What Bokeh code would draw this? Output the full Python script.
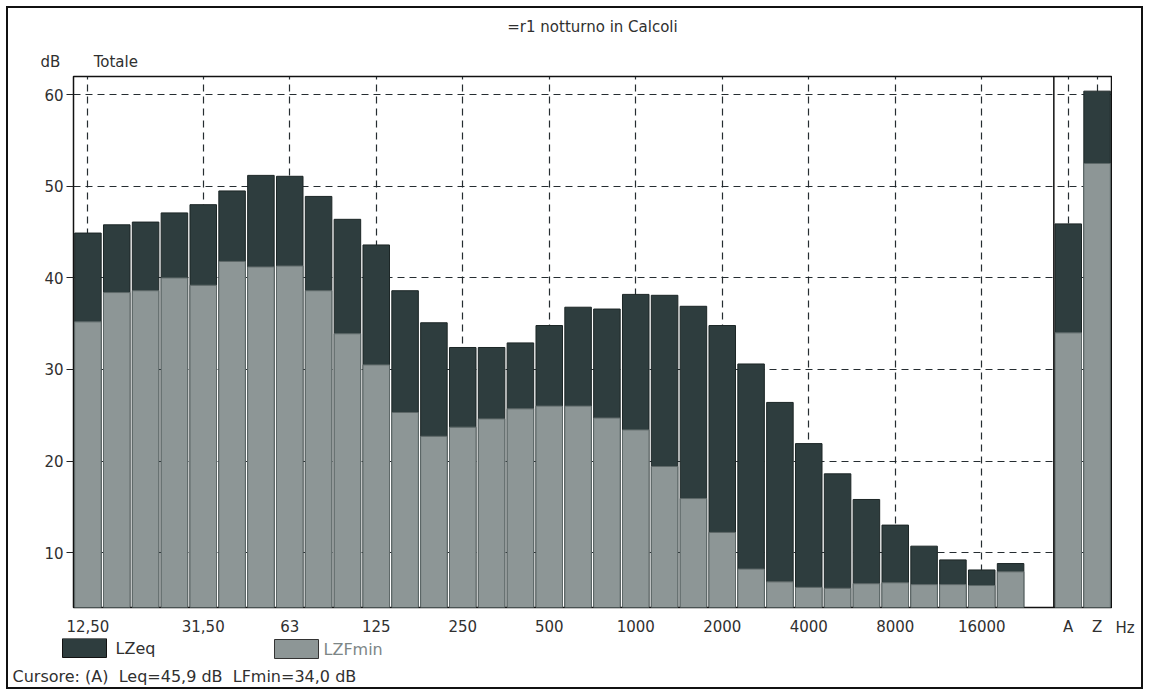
from bokeh.plotting import figure
from bokeh.layouts import column, row
from bokeh.models import FixedTicker, Span, Range1d, Title
from bokeh.core.properties import value
from bokeh.embed import file_html
from bokeh.resources import INLINE

# ---------------- data ----------------
bands = ["12,50", "16", "20", "25", "31,50", "40", "50", "63", "80", "100", "125",
         "160", "200", "250", "315", "400", "500", "630", "800", "1000", "1250",
         "1600", "2000", "2500", "3150", "4000", "5000", "6300", "8000", "10000",
         "12500", "16000", "20000"]
lzeq = [44.9, 45.8, 46.1, 47.1, 48.0, 49.5, 51.2, 51.1, 48.9, 46.4, 43.6,
        38.6, 35.1, 32.4, 32.4, 32.9, 34.8, 36.8, 36.6, 38.2, 38.1,
        36.9, 34.8, 30.6, 26.4, 21.9, 18.6, 15.8, 13.0, 10.7,
        9.2, 8.1, 8.8]
lzfmin = [35.2, 38.4, 38.6, 40.0, 39.2, 41.8, 41.2, 41.3, 38.6, 33.9, 30.5,
          25.3, 22.7, 23.7, 24.6, 25.7, 26.0, 26.0, 24.7, 23.4, 19.4,
          15.9, 12.2, 8.2, 6.8, 6.2, 6.1, 6.6, 6.7, 6.5,
          6.5, 6.4, 7.9]
tot_labels = ["A", "Z"]
tot_lzeq = [45.9, 60.4]
tot_lzfmin = [34.0, 52.5]
labelled_bands = ["12,50", "31,50", "63", "125", "250", "500", "1000", "2000",
                  "4000", "8000", "16000"]
y_ticks = [10, 20, 30, 40, 50, 60]
series_names = ["LZeq", "LZFmin"]
cursor_text = "Cursore: (A)\u00a0\u00a0Leq=45,9 dB\u00a0\u00a0LFmin=34,0 dB"
title_text = "=r1 notturno in Calcoli"

# ---------------- style ----------------
DARK = "#2e3d3e"
LIGHT = "#8d9696"
TXT = "#303030"
FONT = "DejaVu Sans"
NB = "\u00a0"

W, H = 1149, 695
MAIN_W, MAIN_H = 1112, 638
FL, FR, FT, FB = 73, 1111, 76, 608
Y0, Y1 = 4.0, 62.0
n = len(bands)
nslots = n + 1 + len(tot_labels)

xs = list(range(n)) + [n + 1 + j for j in range(len(tot_labels))]
tops_eq = lzeq + tot_lzeq
tops_min = lzfmin + tot_lzfmin

# ---------------- main chart ----------------
p = figure(width=MAIN_W, height=MAIN_H, output_backend="svg", toolbar_location=None,
           title=None,
           x_range=Range1d(-0.5, nslots - 0.5), y_range=Range1d(Y0, Y1),
           min_border_left=FL, min_border_right=MAIN_W - FR,
           min_border_top=FT, min_border_bottom=MAIN_H - FB)
p.background_fill_color = "white"
p.border_fill_alpha = 0
p.outline_line_color = "#111111"
p.outline_line_width = 1.5

p.vbar(x=xs, top=tops_eq, bottom=0, width=0.92, fill_color=DARK,
       line_color="#1c2626", line_width=1)
p.vbar(x=xs, top=tops_min, bottom=0, width=0.92, fill_color=LIGHT,
       line_color="#5e6868", line_width=1)

tick_x = [bands.index(b) for b in labelled_bands] + xs[n:]
overrides = {bands.index(b): b for b in labelled_bands}
for j, t in enumerate(tot_labels):
    overrides[xs[n + j]] = t

p.xaxis.ticker = FixedTicker(ticks=tick_x)
p.xaxis.major_label_overrides = overrides
p.xaxis.major_tick_line_color = None
p.xaxis.major_tick_out = 0
p.xaxis.major_tick_in = 0
p.xaxis.minor_tick_line_color = None
p.xaxis.minor_tick_out = 0
p.xaxis.axis_line_color = None
p.xaxis.major_label_standoff = 10
p.xaxis.major_label_text_font = FONT
p.xaxis.major_label_text_font_size = "15px"
p.xaxis.major_label_text_color = TXT

p.yaxis.ticker = FixedTicker(ticks=y_ticks)
p.yaxis.axis_line_color = None
p.yaxis.minor_tick_line_color = None
p.yaxis.major_tick_out = 7
p.yaxis.major_tick_in = 0
p.yaxis.major_tick_line_color = "#222222"
p.yaxis.major_label_standoff = 3
p.yaxis.major_label_text_font = FONT
p.yaxis.major_label_text_font_size = "15px"
p.yaxis.major_label_text_color = TXT

p.xgrid.ticker = FixedTicker(ticks=tick_x)
p.ygrid.ticker = FixedTicker(ticks=y_ticks)
for g in (p.xgrid, p.ygrid):
    g.grid_line_color = "#1a2226"
    g.grid_line_dash = "7 5"
    g.grid_line_width = 1.2
    g.grid_line_alpha = 0.95

p.add_layout(Span(location=n + 0.5, dimension="height", line_color="#111111",
                  line_width=1.5))

p.add_layout(Title(text="dB" + NB * 7 + "Totale", align="left", offset=-33,
                   text_font=FONT, text_font_size="15px", text_font_style="normal",
                   text_color=TXT, standoff=12), "above")
p.add_layout(Title(text=title_text, align="center", offset=-10,
                   text_font=FONT, text_font_size="15px", text_font_style="normal",
                   text_color=TXT, standoff=18), "above")

def blank(fig):
    fig.outline_line_color = None
    fig.background_fill_alpha = 0
    fig.border_fill_alpha = 0
    fig.xgrid.grid_line_color = None
    fig.ygrid.grid_line_color = None
    fig.frame_align = False

# ---------------- "Hz" unit strip on the right ----------------
hz = figure(width=W - MAIN_W, height=MAIN_H, output_backend="svg",
            toolbar_location=None, x_axis_location=None, y_axis_location=None,
            x_range=Range1d(MAIN_W, W), y_range=Range1d(MAIN_H, 0),
            min_border=0)
blank(hz)
hz.text(x=[1115], y=[627], text=["Hz"], text_font=value(FONT),
        text_font_size="15px", text_color=TXT, text_baseline="middle")

# ---------------- legend + cursor strip at the bottom ----------------
bt = figure(width=W, height=H - MAIN_H, output_backend="svg",
            toolbar_location=None, x_axis_location=None, y_axis_location=None,
            x_range=Range1d(0, W), y_range=Range1d(H, MAIN_H), min_border=0)
blank(bt)
bt.quad(left=[62, 274], right=[106, 318], top=[638, 639], bottom=[657, 658],
        fill_color=[DARK, LIGHT], line_color=["#111111", "#333333"], line_width=1)
bt.text(x=[115, 323], y=[648, 649], text=series_names, text_font=value(FONT),
        text_font_size="16px", text_color=[TXT, "#7d8686"], text_baseline="middle")
bt.text(x=[12], y=[676], text=[cursor_text], text_font=value(FONT),
        text_font_size="16px", text_color=TXT, text_baseline="middle")

layout = column(row(p, hz, spacing=0), bt, spacing=0,
                styles={"outline": "2px solid #111111", "outline-offset": "-8px"})

open("out.html", "w").write(file_html(layout, INLINE))
